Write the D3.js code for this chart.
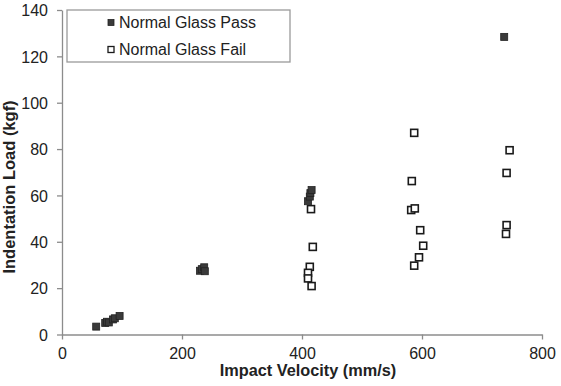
<!DOCTYPE html>
<html>
<head>
<meta charset="utf-8">
<script src="https://cdn.jsdelivr.net/npm/d3@7"></script>
<style>
  body { margin: 0; background: #fff; }
  svg { display: block; font-family: "Liberation Sans", Arial, sans-serif; }
</style>
</head>
<body>
<div id="chart"></div>
<script>
const width = 561, height = 386;
const margin = {top: 10, right: 19, bottom: 51.5, left: 62};

// values
const passVelocity = [57, 72, 75, 78, 85, 88, 96, 230, 233, 237, 238, 410, 413, 414, 416, 737];
const passLoad = [3.4, 5, 5.5, 5.2, 6.5, 7, 8, 27.5, 28.2, 29, 27.3, 57.5, 59.5, 61, 62.3, 128.4];
const failVelocity = [415, 418, 413, 410, 410, 416, 587, 583, 582, 588, 597, 602, 595, 587, 746, 741, 741, 740];
const failLoad = [54.1, 37.8, 29.2, 26.6, 24.2, 20.9, 87.0, 66.2, 53.7, 54.4, 45.0, 38.3, 33.3, 29.7, 79.5, 69.7, 47.2, 43.4];
const xTicks = [0, 200, 400, 600, 800];
const yTicks = [0, 20, 40, 60, 80, 100, 120, 140];
const seriesNames = ["Normal Glass Pass", "Normal Glass Fail"];

const svg = d3.select("#chart").append("svg")
  .attr("width", width)
  .attr("height", height);

const x = d3.scaleLinear().domain([0, 800]).range([margin.left, width - margin.right]);
const y = d3.scaleLinear().domain([0, 140]).range([height - margin.bottom, margin.top]);

const xAxis = svg.append("g")
  .attr("transform", "translate(0," + y(0) + ")")
  .call(d3.axisBottom(x).tickValues(xTicks).tickSize(5).tickSizeOuter(0).tickPadding(8.5));
const yAxis = svg.append("g")
  .attr("transform", "translate(" + x(0) + ",0)")
  .call(d3.axisLeft(y).tickValues(yTicks).tickSize(5).tickSizeOuter(0).tickPadding(9));

[xAxis, yAxis].forEach(g => {
  g.select(".domain").attr("stroke", "#8c8c8c").attr("stroke-width", 1.3);
  g.selectAll(".tick line").attr("stroke", "#8c8c8c").attr("stroke-width", 1.3);
  g.selectAll(".tick text").attr("fill", "#222").style("font-size", "16px")
    .style("font-family", "'Liberation Sans', Arial, sans-serif");
});
yAxis.selectAll(".tick text").attr("dy", "0.36em");

// axis titles
svg.append("text")
  .attr("x", 308).attr("y", 376)
  .attr("text-anchor", "middle")
  .style("font-size", "16.3px").style("font-weight", "bold")
  .attr("fill", "#222")
  .text("Impact Velocity (mm/s)");
svg.append("text")
  .attr("transform", "translate(15,187) rotate(-90)")
  .attr("text-anchor", "middle")
  .style("font-size", "16.5px").style("font-weight", "bold")
  .attr("fill", "#222")
  .text("Indentation Load (kgf)");

const s = 7;
const pass = passVelocity.map((v, i) => ({v: v, l: passLoad[i]}));
const fail = failVelocity.map((v, i) => ({v: v, l: failLoad[i]}));

svg.selectAll(".fail").data(fail).enter().append("rect")
  .attr("class", "fail")
  .attr("x", d => x(d.v) - s / 2)
  .attr("y", d => y(d.l) - s / 2)
  .attr("width", s).attr("height", s)
  .attr("fill", "#fff").attr("stroke", "#1a1a1a").attr("stroke-width", 1.6);

svg.selectAll(".pass").data(pass).enter().append("rect")
  .attr("class", "pass")
  .attr("x", d => x(d.v) - s / 2)
  .attr("y", d => y(d.l) - s / 2)
  .attr("width", s).attr("height", s)
  .attr("fill", "#3a3a3a").attr("stroke", "#222").attr("stroke-width", 0.8);

// legend
const legend = svg.append("g");
legend.append("rect")
  .attr("x", 67).attr("y", 10)
  .attr("width", 223).attr("height", 52)
  .attr("fill", "#fff").attr("stroke", "#9a9a9a").attr("stroke-width", 1.3);

seriesNames.forEach((name, i) => {
  const cy = 22.5 + i * 27;
  legend.append("rect")
    .attr("x", 108).attr("y", cy - 3)
    .attr("width", 6).attr("height", 6)
    .attr("fill", i === 0 ? "#3a3a3a" : "#fff")
    .attr("stroke", i === 0 ? "#222" : "#1a1a1a")
    .attr("stroke-width", i === 0 ? 0.8 : 1.3);
  legend.append("text")
    .attr("x", 119).attr("y", cy + 5.5)
    .style("font-size", "16px")
    .attr("fill", "#222")
    .text(name);
});
</script>
</body>
</html>
